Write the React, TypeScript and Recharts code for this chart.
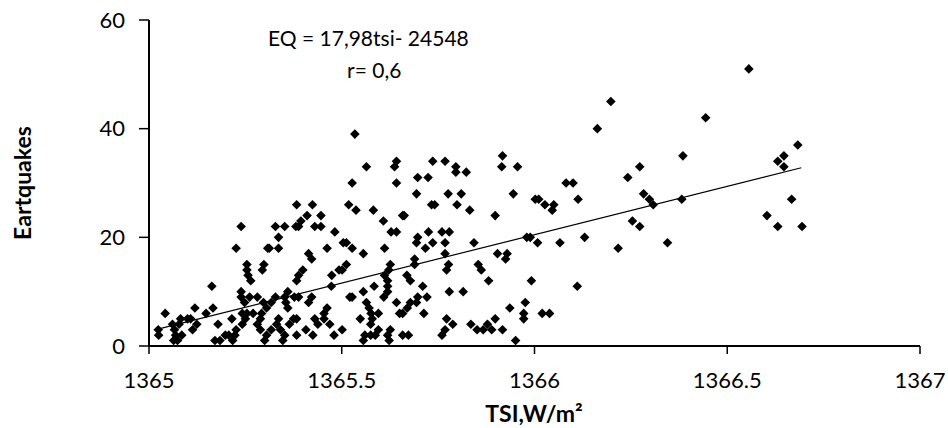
import React from 'react';
import { ScatterChart, Scatter, XAxis, YAxis } from 'recharts';

// TSI (W/m²) and monthly earthquake counts
const tsi = [
  1366.556, 1366.198, 1366.444, 1366.163, 1366.683, 1366.647, 1366.385, 1366.631, 1366.647, 1366.273,
  1366.242, 1366.283, 1366.298, 1366.308, 1366.382, 1366.667, 1366.603, 1366.631, 1366.694, 1366.254,
  1366.273, 1366.345, 1366.217, 1366.130, 1366.111, 1366.082, 1366.100, 1366.113, 1366.066, 1366.027,
  1366.050, 1366.046, 1366.002, 1366.011, 1366.008, 1365.980, 1365.989, 1365.992, 1366.020, 1366.039,
  1365.976, 1365.972, 1365.972, 1365.951, 1365.917, 1365.915, 1365.956, 1365.945, 1365.929, 1365.925,
  1365.898, 1365.904, 1365.936, 1365.898, 1365.889, 1365.917, 1365.878, 1365.867, 1365.851, 1365.835,
  1365.881, 1365.862, 1365.854, 1365.843, 1365.832, 1365.823, 1365.796, 1365.796, 1365.799, 1365.810,
  1365.815, 1365.776, 1365.779, 1365.768, 1365.768, 1365.777, 1365.772, 1365.779, 1365.788, 1365.772,
  1365.768, 1365.760, 1365.760, 1365.768, 1365.736, 1365.724, 1365.697, 1365.733, 1365.741, 1365.694,
  1365.725, 1365.736, 1365.697, 1365.694, 1365.717, 1365.689, 1365.689, 1365.710, 1365.721, 1365.713,
  1365.694, 1365.678, 1365.670, 1365.678, 1365.669, 1365.658, 1365.650, 1365.642, 1365.658, 1365.662,
  1365.642, 1365.637, 1365.642, 1365.642, 1365.628, 1365.608, 1365.611, 1365.622, 1365.611, 1365.619,
  1365.619, 1365.609, 1365.619, 1365.626, 1365.582, 1365.564, 1365.527, 1365.534, 1365.537, 1365.518,
  1365.556, 1365.527, 1365.512, 1365.504, 1365.512, 1365.501, 1365.493, 1365.527, 1365.521, 1365.556,
  1365.564, 1365.571, 1365.584, 1365.576, 1365.595, 1365.579, 1365.575, 1365.595, 1365.575, 1365.556,
  1365.548, 1365.560, 1365.587, 1365.619, 1365.623, 1365.626, 1365.658, 1365.673, 1365.697, 1365.474,
  1365.473, 1365.501, 1365.480, 1365.469, 1365.462, 1365.454, 1365.462, 1365.446, 1365.430, 1365.446,
  1365.414, 1365.422, 1365.424, 1365.383, 1365.394, 1365.388, 1365.381, 1365.352, 1365.336, 1365.336,
  1365.312, 1365.308, 1365.298, 1365.294, 1365.264, 1365.239, 1365.226, 1365.163, 1365.399, 1365.388,
  1365.383, 1365.422, 1365.414, 1365.388, 1365.377, 1365.360, 1365.352, 1365.355, 1365.360, 1365.336,
  1365.331, 1365.341, 1365.352, 1365.347, 1365.364, 1365.375, 1365.407, 1365.425, 1365.430, 1365.438,
  1365.454, 1365.328, 1365.317, 1365.305, 1365.297, 1365.292, 1365.289, 1365.281, 1365.289, 1365.305,
  1365.317, 1365.261, 1365.254, 1365.250, 1365.242, 1365.239, 1365.239, 1365.248, 1365.242, 1365.226,
  1365.223, 1365.217, 1365.215, 1365.207, 1365.198, 1365.184, 1365.171, 1365.179, 1365.166, 1365.148,
  1365.119, 1365.124, 1365.113, 1365.108, 1365.100, 1365.082, 1365.078, 1365.085, 1365.069, 1365.064,
  1365.074, 1365.066, 1365.061, 1365.042, 1365.024, 1365.025, 1365.270, 1365.281, 1365.300, 1365.383,
  1365.383, 1365.257, 1365.254, 1365.254, 1365.328, 1365.410, 1365.482,
];

const quakes = [
  51, 45, 42, 40, 37, 35, 35, 34, 33, 33,
  31, 28, 27, 26, 27, 27, 24, 22, 22, 23,
  22, 19, 18, 20, 11, 30, 30, 27, 19, 26,
  26, 25, 27, 27, 19, 20, 20, 12, 6, 6,
  8, 6, 5, 1, 35, 33, 33, 28, 17, 16,
  24, 17, 7, 5, 3, 3, 4, 3, 3, 4,
  12, 14, 15, 19, 25, 32, 33, 32, 26, 28,
  10, 28, 21, 19, 17, 15, 14, 10, 4, 5,
  3, 2, 21, 34, 34, 31, 31, 26, 26, 28,
  21, 19, 20, 19, 18, 16, 15, 11, 9, 6,
  8, 8, 7, 12, 13, 6, 6, 8, 24, 24,
  34, 33, 30, 21, 21, 23, 18, 14, 13, 12,
  11, 9, 10, 15, 25, 33, 30, 39, 25, 26,
  17, 18, 19, 19, 15, 14, 14, 9, 9, 10,
  8, 7, 11, 6, 6, 5, 4, 3, 2, 1,
  5, 2, 2, 2, 1, 3, 2, 2, 9, 13,
  11, 3, 2, 4, 7, 6, 18, 22, 22, 24,
  17, 16, 26, 26, 23, 22, 22, 22, 20, 18,
  18, 18, 15, 14, 12, 22, 18, 11, 14, 13,
  12, 9, 8, 9, 9, 10, 9, 8, 7, 5,
  4, 3, 2, 1, 4, 5, 3, 2, 5, 4,
  5, 9, 8, 7, 8, 6, 5, 4, 3, 2,
  3, 9, 6, 5, 6, 10, 9, 8, 4, 3,
  2, 1, 5, 2, 2, 1, 1, 4, 7, 6,
  7, 4, 3, 5, 5, 5, 4, 2, 2, 1,
  1, 3, 4, 6, 3, 2, 6, 9, 1, 5,
  2, 13, 15, 14, 22, 24, 21,
];

// end points of the fitted line EQ = 17,98 tsi - 24548
const trendTsi = [1365.023, 1366.692];
const trendEq = [3.1, 32.8];

const xTicks = [1365, 1365.5, 1366, 1366.5, 1367];
const yTicks = [0, 20, 40, 60];

const points = tsi.map((x, i) => ({ x, y: quakes[i] }));
const trend = trendTsi.map((x, i) => ({ x, y: trendEq[i] }));

const Diamond = (props: any) => {
  const { cx, cy } = props;
  if (cx == null || cy == null) return null;
  const r = 4.8;
  return (
    <polygon
      points={`${cx},${cy - r} ${cx + r},${cy} ${cx},${cy + r} ${cx - r},${cy}`}
      fill="#000"
    />
  );
};

const font = 'Lato, sans-serif';
const tickFont = { fontFamily: font, fontSize: 22, fill: '#000' };

export default function App() {
  return (
    <div style={{ position: 'absolute', left: 0, top: 0, width: 948, height: 428, background: '#fff' }}>
      <ScatterChart width={948} height={428} margin={{ top: 20, right: 28, left: 89, bottom: 22 }}>
        <XAxis
          type="number"
          dataKey="x"
          domain={[1365, 1367]}
          ticks={xTicks}
          height={60}
          tickSize={8}
          tickMargin={18}
          axisLine={{ stroke: '#000', strokeWidth: 2 }}
          tickLine={{ stroke: '#000', strokeWidth: 1.5 }}
          tick={tickFont}
          interval={0}
        />
        <YAxis
          type="number"
          dataKey="y"
          domain={[0, 60]}
          ticks={yTicks}
          width={60}
          tickSize={10}
          tickMargin={14}
          axisLine={{ stroke: '#000', strokeWidth: 2 }}
          tickLine={{ stroke: '#000', strokeWidth: 1.5 }}
          tick={tickFont}
          interval={0}
        />
        <Scatter data={points} fill="#000" shape={Diamond} isAnimationActive={false} />
        <Scatter
          data={trend}
          line={{ stroke: '#000', strokeWidth: 1.2 }}
          shape={() => null}
          isAnimationActive={false}
        />
      </ScatterChart>
      <div style={{ position: 'absolute', left: 268, top: 37, transform: 'translateY(-50%)', fontFamily: font, fontSize: 21, whiteSpace: 'nowrap' }}>
        EQ = 17,98tsi- 24548
      </div>
      <div style={{ position: 'absolute', left: 347, top: 69, transform: 'translateY(-50%)', fontFamily: font, fontSize: 21, whiteSpace: 'nowrap' }}>
        r= 0,6
      </div>
      <div style={{ position: 'absolute', left: 534, top: 413, transform: 'translate(-50%, -50%)', fontFamily: font, fontSize: 23, fontWeight: 'bold', whiteSpace: 'nowrap' }}>
        TSI,W/m²
      </div>
      <div style={{ position: 'absolute', left: 22, top: 183, transform: 'translate(-50%, -50%) rotate(-90deg)', fontFamily: font, fontSize: 23, fontWeight: 'bold', whiteSpace: 'nowrap' }}>
        Eartquakes
      </div>
    </div>
  );
}
